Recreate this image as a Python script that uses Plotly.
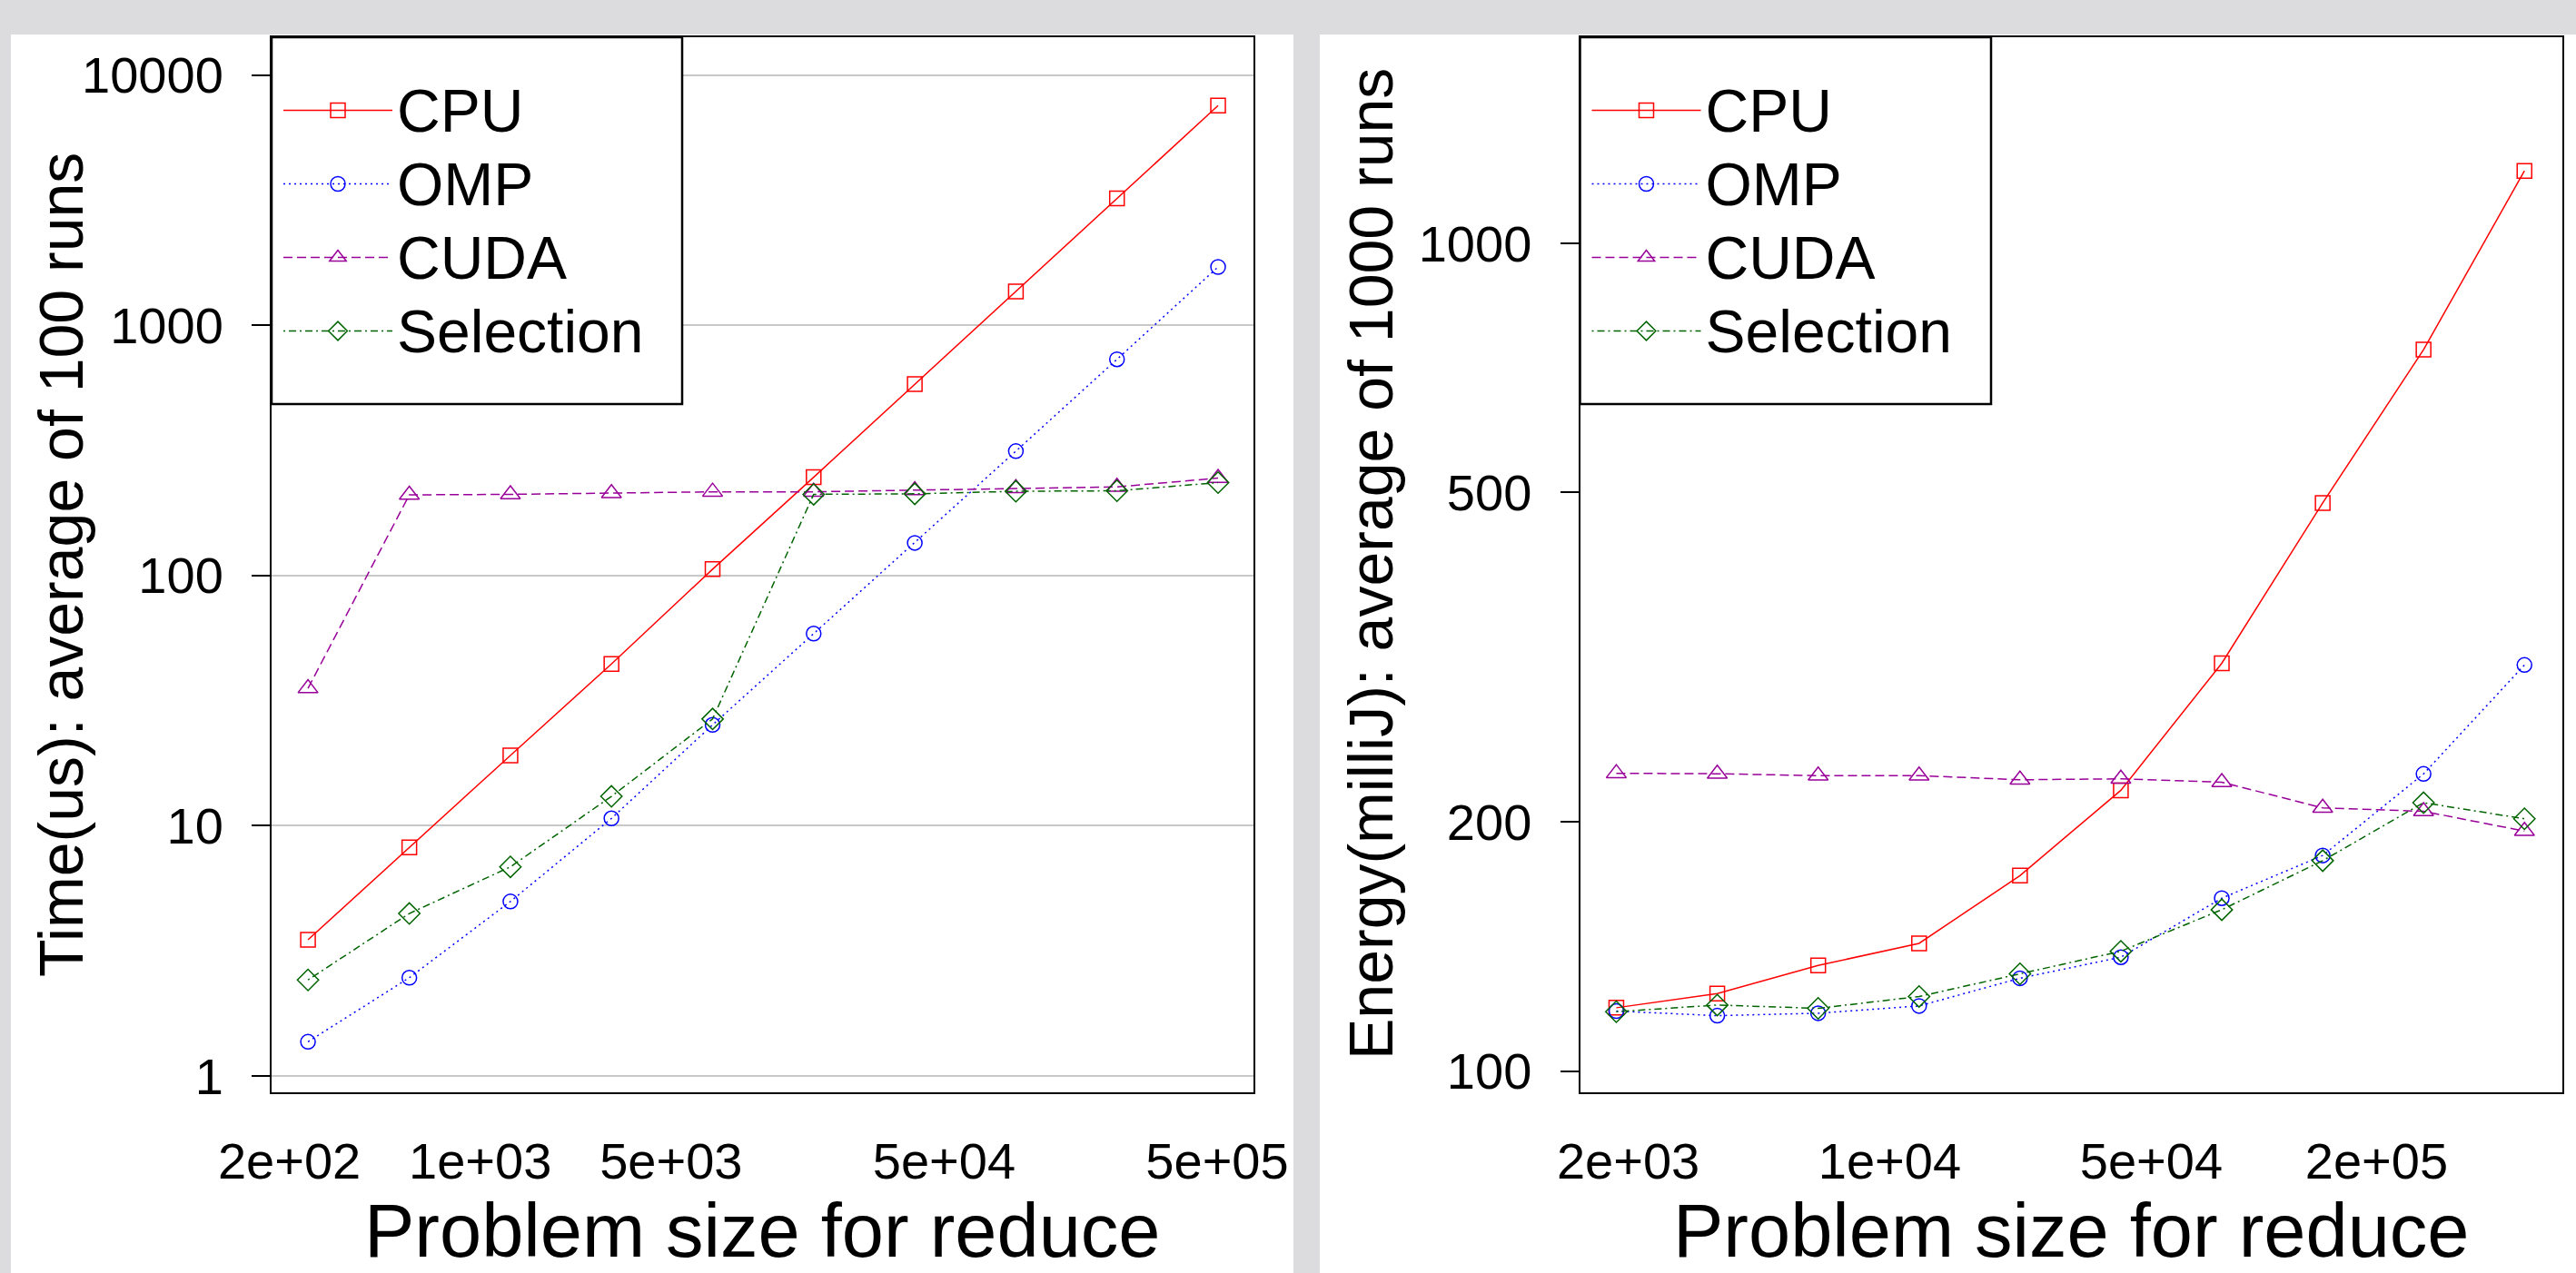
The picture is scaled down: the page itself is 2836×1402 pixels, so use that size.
import plotly.graph_objects as go

W, H = 2836, 1402

# ---------------- data ----------------
series_names = ["CPU", "OMP", "CUDA", "Selection"]

# left panel: time (us), average of 100 runs
time_sizes = [234, 550, 1290, 3024, 7096, 16640, 39040, 91570, 214800, 503900]
time_cpu = [3.5, 8.2, 19.1, 44.3, 106, 247, 582, 1365, 3210, 7546]
time_omp = [1.37, 2.47, 4.98, 10.7, 25.3, 58.6, 135, 314, 731, 1710]
time_cuda = [35.4, 210, 211, 213, 216, 216, 219, 223, 226, 245]
time_selection = [2.42, 4.46, 6.85, 13.1, 26.7, 211, 212, 217, 218, 235]

# right panel: energy (milliJ), average of 1000 runs
energy_sizes = [1859, 3460, 6438, 11980, 22290, 41470, 77170, 143600, 267100, 497000]
energy_cpu = [119.3, 124.1, 134.2, 142.7, 172.3, 218.4, 311, 485.7, 744, 1223]
energy_omp = [118.2, 116.7, 117.5, 119.9, 129.5, 137.3, 161.8, 182.2, 228.6, 309.5]
energy_cuda = [229, 228.7, 227.5, 227.5, 224.9, 225.5, 223.4, 208, 206, 195]
energy_selection = [118.0, 120.2, 119.1, 123.1, 131.1, 139.6, 156.7, 179.6, 211, 201.8]

# axis tick labels
time_x_tickvals = [200, 1000, 5000, 50000, 500000]
time_x_ticktext = ["2e+02", "1e+03", "5e+03", "5e+04", "5e+05"]
time_x_gridvals = [1000, 10000, 100000]
time_y_tickvals = [1, 10, 100, 1000, 10000]
time_y_ticktext = ["1", "10", "100", "1000", "10000"]

energy_x_tickvals = [2000, 10000, 50000, 200000]
energy_x_ticktext = ["2e+03", "1e+04", "5e+04", "2e+05"]
energy_x_gridvals = [10000, 100000]
energy_y_tickvals = [100, 200, 500, 1000]
energy_y_ticktext = ["100", "200", "500", "1000"]
energy_y_gridvals = [100, 1000]

x_title = "Problem size for reduce"
time_y_title = "Time(us): average of 100 runs"
energy_y_title = "Energy(milliJ): average of 1000 runs"

# ---------------- styles ----------------
colors = {"CPU": "#ff0000", "OMP": "#0000ff", "CUDA": "#990099", "Selection": "#006400"}
symbols = {"CPU": "square-open", "OMP": "circle-open", "CUDA": "triangle-up-open",
           "Selection": "diamond-open"}
msizes = {"CPU": 16, "OMP": 16, "CUDA": 19, "Selection": 18}
dashes = {"CPU": "solid", "OMP": "2px,4px", "CUDA": "10px,5px", "Selection": "2px,4px,8px,4px"}

FONT = "Liberation Sans, Arial, sans-serif"
LEGEND_TEXT_PX = 66


def fx(p):
    return p / W


def fy(p):
    return 1 - p / H


def legend_label(name):
    return "<span style='font-size:%dpx'>%s</span>" % (LEGEND_TEXT_PX, name)


fig = go.Figure()

time_series = [time_cpu, time_omp, time_cuda, time_selection]
energy_series = [energy_cpu, energy_omp, energy_cuda, energy_selection]

for name, ys in zip(series_names, time_series):
    fig.add_trace(go.Scatter(
        x=time_sizes, y=ys, name=legend_label(name), mode="lines+markers",
        xaxis="x", yaxis="y", legend="legend",
        line=dict(color=colors[name], width=1.5, dash=dashes[name]),
        marker=dict(symbol=symbols[name], size=msizes[name], color=colors[name],
                    line=dict(color=colors[name], width=1.5)),
    ))

for name, ys in zip(series_names, energy_series):
    fig.add_trace(go.Scatter(
        x=energy_sizes, y=ys, name=legend_label(name), mode="lines+markers",
        xaxis="x2", yaxis="y2", legend="legend2",
        line=dict(color=colors[name], width=1.5, dash=dashes[name]),
        marker=dict(symbol=symbols[name], size=msizes[name], color=colors[name],
                    line=dict(color=colors[name], width=1.5)),
    ))

# plot box pixel geometry
L_X0, L_X1 = 299, 1380
R_X0, R_X1 = 1739.5, 2820.7
P_Y0, P_Y1 = 41, 1203

time_x_range = [2.2359, 5.832]
time_y_range = [-0.0653, 4.151]
energy_x_range = [3.1723, 5.797]
energy_y_range = [1.9745, 3.2489]

tickfont = dict(family=FONT, size=56, color="black")
xtitlefont = dict(family=FONT, size=83, color="black")
ytitlefont = dict(family=FONT, size=68, color="black")

common_main_x = dict(
    type="log", tickmode="array", ticks="", showgrid=False, zeroline=False,
    showline=True, mirror=True, linecolor="black", linewidth=2,
    tickfont=tickfont, ticklabelstandoff=26, automargin=False,
)
common_main_y = dict(
    type="log", tickmode="array", ticks="outside", ticklen=20, tickwidth=2,
    tickcolor="black", zeroline=False, showline=True, mirror=True,
    linecolor="black", linewidth=2, tickfont=tickfont, ticklabelstandoff=20,
    automargin=False,
)
overlay_common = dict(type="log", tickmode="array", showline=False, zeroline=False,
                      showticklabels=False, automargin=False)

layout = dict(
    width=W, height=H,
    margin=dict(l=0, r=0, t=0, b=0, autoexpand=False),
    paper_bgcolor="#dcdcdf",
    plot_bgcolor="white",
    font=dict(family=FONT, color="black"),
    # ---- left panel ----
    xaxis=dict(
        common_main_x, domain=[fx(L_X0), fx(L_X1)], anchor="y", range=time_x_range,
        tickvals=time_x_tickvals, ticktext=time_x_ticktext,
    ),
    yaxis=dict(
        common_main_y, domain=[fy(P_Y1), fy(P_Y0)], anchor="x", range=time_y_range,
        tickvals=time_y_tickvals, ticktext=time_y_ticktext,
        showgrid=True, gridcolor="#c8c8c8", gridwidth=2,
    ),
    xaxis3=dict(  # inward tick marks at each problem size
        overlay_common, overlaying="x", anchor="y", side="bottom", range=time_x_range,
        tickvals=time_sizes, ticks="inside", ticklen=22, tickwidth=2,
        tickcolor="black", showgrid=False,
    ),
    xaxis5=dict(  # vertical grid lines
        overlay_common, overlaying="x", anchor="y", side="bottom", range=time_x_range,
        tickvals=time_x_gridvals, ticks="", showgrid=True, gridcolor="#c8c8c8", gridwidth=2,
    ),
    # ---- right panel ----
    xaxis2=dict(
        common_main_x, domain=[fx(R_X0), fx(R_X1)], anchor="y2", range=energy_x_range,
        tickvals=energy_x_tickvals, ticktext=energy_x_ticktext,
    ),
    yaxis2=dict(
        common_main_y, domain=[fy(P_Y1), fy(P_Y0)], anchor="x2", range=energy_y_range,
        tickvals=energy_y_tickvals, ticktext=energy_y_ticktext, showgrid=False,
    ),
    xaxis4=dict(
        overlay_common, overlaying="x2", anchor="y2", side="bottom", range=energy_x_range,
        tickvals=energy_sizes, ticks="inside", ticklen=22, tickwidth=2,
        tickcolor="black", showgrid=False,
    ),
    xaxis6=dict(
        overlay_common, overlaying="x2", anchor="y2", side="bottom", range=energy_x_range,
        tickvals=energy_x_gridvals, ticks="", showgrid=True, gridcolor="#b8b8b8", gridwidth=1,
    ),
    yaxis4=dict(
        overlay_common, overlaying="y2", anchor="x2", side="left", range=energy_y_range,
        tickvals=energy_y_gridvals, ticks="", showgrid=True, gridcolor="#c8c8c8", gridwidth=2,
    ),
    legend=dict(
        x=fx(L_X0 + 8), xanchor="left", y=fy(243), yanchor="middle",
        bgcolor="rgba(0,0,0,0)", borderwidth=0, itemwidth=120,
        font=dict(family=FONT, size=60, color="black"),
    ),
    legend2=dict(
        x=fx(R_X0 + 8), xanchor="left", y=fy(243), yanchor="middle",
        bgcolor="rgba(0,0,0,0)", borderwidth=0, itemwidth=120,
        font=dict(family=FONT, size=60, color="black"),
    ),
    annotations=[
        dict(text=time_y_title, xref="paper", yref="paper", x=fx(67), y=fy(622),
             xanchor="center", yanchor="middle", textangle=-90, showarrow=False,
             font=ytitlefont),
        dict(text=energy_y_title, xref="paper", yref="paper", x=fx(1509), y=fy(621),
             xanchor="center", yanchor="middle", textangle=-90, showarrow=False,
             font=ytitlefont),
        dict(text=x_title, xref="paper", yref="paper", x=fx((L_X0 + L_X1) / 2), y=fy(1355),
             xanchor="center", yanchor="middle", showarrow=False, font=xtitlefont),
        dict(text=x_title, xref="paper", yref="paper", x=fx((R_X0 + R_X1) / 2), y=fy(1355),
             xanchor="center", yanchor="middle", showarrow=False, font=xtitlefont),
    ],
    shapes=[
        dict(type="rect", xref="paper", yref="paper", x0=fx(12), x1=fx(1424), y0=0, y1=fy(38),
             fillcolor="white", line=dict(width=0), layer="below"),
        dict(type="rect", xref="paper", yref="paper", x0=fx(1453), x1=1, y0=0, y1=fy(38),
             fillcolor="white", line=dict(width=0), layer="below"),
        dict(type="rect", xref="paper", yref="paper", x0=fx(L_X0), x1=fx(751), y0=fy(445),
             y1=fy(P_Y0), fillcolor="white", line=dict(color="black", width=2.5), layer="above"),
        dict(type="rect", xref="paper", yref="paper", x0=fx(R_X0), x1=fx(2192), y0=fy(445),
             y1=fy(P_Y0), fillcolor="white", line=dict(color="black", width=2.5), layer="above"),
    ],
)

fig.update_layout(**layout)

fig.write_html("out.html", config={"displayModeBar": False},
               post_script="document.body.style.margin='0';document.body.style.overflow='hidden';")
